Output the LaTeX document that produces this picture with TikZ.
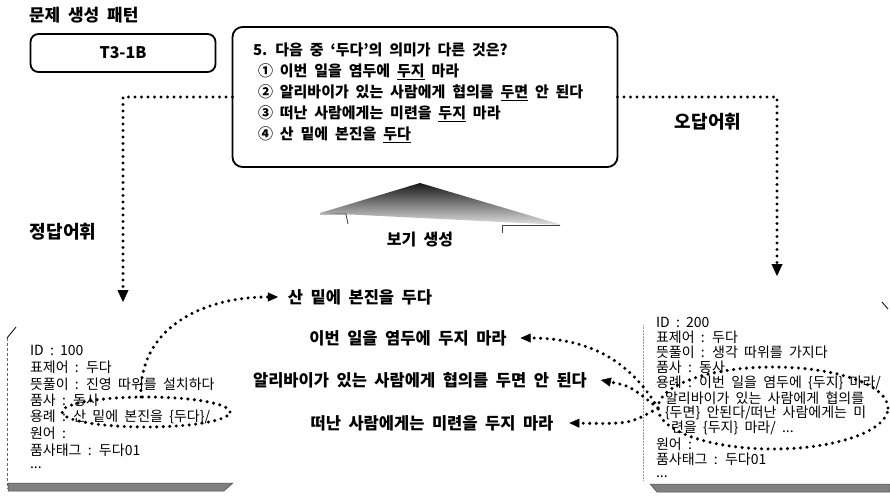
\documentclass[tikz,border=0pt]{standalone}
\usepackage{fontspec}
\setmainfont{Noto Sans CJK KR}[WordSpace=2]
\usetikzlibrary{arrows.meta,shapes.geometric}
\begin{document}
\begin{tikzpicture}[x=1pt,y=-1pt,
  every node/.style={inner sep=0pt,outer sep=0pt},
  lbl/.style={font=\bfseries\fontsize{18}{20}\selectfont},
  ttl/.style={font=\bfseries\fontsize{17}{19}\selectfont,anchor=west},
  qtxt/.style={font=\bfseries\fontsize{15}{17}\selectfont,anchor=west},
  ctxt/.style={font=\fontsize{14}{15}\selectfont,anchor=west},
  mtxt/.style={font=\bfseries\fontsize{16.5}{18}\selectfont},
  dotline/.style={line width=3.4pt,line cap=round,dash pattern=on 0pt off 6.5pt},
  tip/.style={-{Triangle[length=12pt,width=11pt,line width=0.4pt]}},
  stip/.style={-{Triangle[length=10pt,width=9pt,line width=0.4pt]}},
  frame/.style={line width=1.8pt},
  bar/.style={fill=black!50,draw=black!70,line width=0.5pt}]
\useasboundingbox (0,0) rectangle (890,498);

% title and pattern box
\node[ttl] (title) at (29,15) {문제 생성 패턴};
\node[draw,frame,rounded corners=8pt,minimum width=185pt,minimum height=38pt,
  font=\bfseries\fontsize{16}{18}\selectfont] (pat) at (123,53) {T3-1B};

% question box
\node[draw,frame,rounded corners=10pt,minimum width=385pt,minimum height=140pt] (q) at (425,97) {};
\node[qtxt] (q0) at (253,50) {5. 다음 중 ‘두다’의 의미가 다른 것은?};
\node[qtxt] (q1) at (258,72) {① 이번 일을 염두에 \underline{두지} 마라};
\node[qtxt] (q2) at (258,93) {② 알리바이가 있는 사람에게 협의를 \underline{두면} 안 된다};
\node[qtxt] (q3) at (258,114) {③ 떠난 사람에게는 미련을 \underline{두지} 마라};
\node[qtxt] (q4) at (258,135) {④ 산 밑에 본진을 \underline{두다}};

% connectors from question box
\coordinate (la) at (123,302);
\coordinate (ra) at (777,276);
\draw[dotline,tip] (q.west) -| (la);
\draw[dotline,tip] (q.east) -| (ra);
\node[lbl] (ok) at (63,232) {정답어휘};
\node[lbl] (wr) at (708,122) {오답어휘};

% 보기 생성
\shade[top color=black!90,bottom color=black!12] (420,183) -- (562,225) -- (320,213) -- cycle;
\draw[black!75,line width=0.8pt] (320,214) -- (346,214) -- (348,224);
\draw[black!75,line width=0.8pt] (502,233) -- (502,225) -- (560,225);
\node[font=\bfseries\fontsize{16}{18}\selectfont] (gen) at (420,240) {보기 생성};

% left card
\draw[black!60,densely dashed,line width=0.6pt] (7,338) -- (7,489);
\draw[line width=0.8pt] (7,338) -- (16,327);
\draw[bar] (8,483) -- (233,483) -- (224,491) -- (8,491) -- cycle;
\node[ctxt] (l1) at (30,350) {ID : 100};
\node[ctxt] (l2) at (30,367) {표제어 : 두다};
\node[ctxt] (l3) at (30,384) {뜻풀이 : 진영 따위를 설치하다};
\node[ctxt] (l4) at (30,400) {품사 : 동사};
\node[ctxt] (l5) at (30,417) {용례 : 산 밑에 본진을 \{두다\}/};
\node[ctxt] (l6) at (30,433) {원어 :};
\node[ctxt] (l7) at (30,450) {품사태그 : 두다01};
\node[ctxt] (l8) at (30,468) {...};
\node[draw,dotline,ellipse,minimum width=168pt,minimum height=30pt] (le) at (146,412) {};

% right card
\draw[black!40,densely dotted,line width=0.5pt] (643,325) -- (643,480);
\draw[line width=0.8pt] (882,302) -- (888,309);
\draw[bar] (650,484) -- (890,484) -- (890,492) -- (657,492) -- cycle;
\node[ctxt] (r1) at (656,322) {ID : 200};
\node[ctxt] (r2) at (656,337) {표제어 : 두다};
\node[ctxt] (r3) at (656,352) {뜻풀이 : 생각 따위를 가지다};
\node[ctxt] (r4) at (656,367) {품사 : 동사};
\node[ctxt] (r5) at (656,383) {용례 : 이번 일을 염두에 \{두지\} 마라/};
\node[ctxt] (r6) at (665,398) {알리바이가 있는 사람에게 협의를};
\node[ctxt] (r7) at (665,413) {\{두면\} 안된다/떠난 사람에게는 미};
\node[ctxt] (r8) at (671,428) {련을 \{두지\} 마라/ ...};
\node[ctxt] (r9) at (656,444) {원어 :};
\node[ctxt] (r10) at (656,459) {품사태그 : 두다01};
\node[ctxt] (r11) at (656,477) {...};
\node[draw,dotline,ellipse,minimum width=230pt,minimum height=82pt] (re) at (773,408) {};

% middle example sentences
\node[mtxt] (m1) at (360,297) {산 밑에 본진을 두다};
\node[mtxt] (m2) at (408,338) {이번 일을 염두에 두지 마라};
\node[mtxt] (m3) at (420,380) {알리바이가 있는 사람에게 협의를 두면 안 된다};
\node[mtxt] (m4) at (432,423) {떠난 사람에게는 미련을 두지 마라};

\draw[dotline,stip] ([xshift=-5pt]le.north) .. controls (138,330) and (200,297) .. ([xshift=-10pt]m1.west);
\draw[dotline,stip] (re.west) .. controls (635,370) and (600,338) .. ([xshift=14pt]m2.east);
\draw[dotline,stip] (re.west) .. controls (630,386) .. ([xshift=14pt]m3.east);
\draw[dotline,stip] (re.west) .. controls (630,424) .. ([xshift=16pt]m4.east);
\end{tikzpicture}
\end{document}
